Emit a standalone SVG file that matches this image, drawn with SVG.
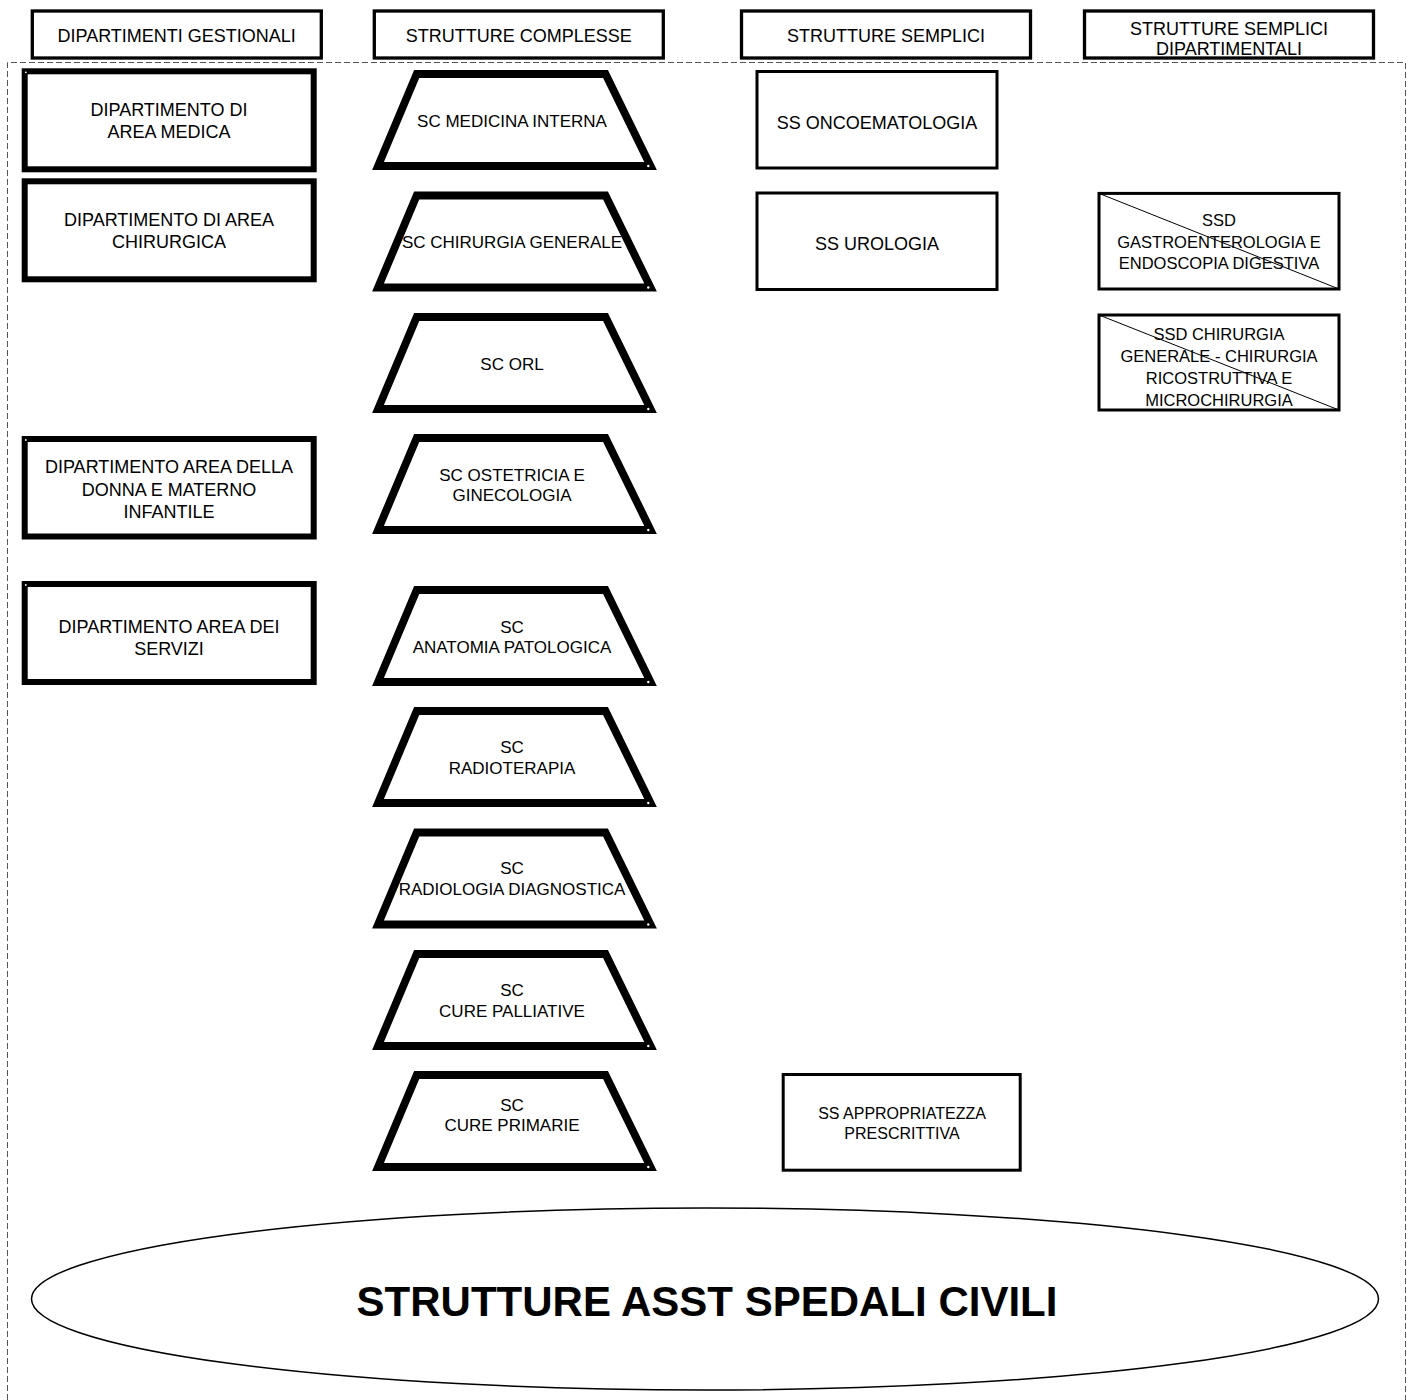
<svg xmlns="http://www.w3.org/2000/svg" width="1413" height="1400" viewBox="0 0 1413 1400">
<style>
text{font-family:"Liberation Sans",Arial,sans-serif;fill:#000;text-anchor:middle}
.h{font-size:18px}
.d{font-size:18px}
.sc{font-size:17px}
.ss{font-size:18px}
.ssd{font-size:16.5px}
.hdr{fill:#fff;stroke:#000;stroke-width:3.3}
.dept{fill:#fff;stroke:#000;stroke-width:6}
.sbox{fill:#fff;stroke:#000;stroke-width:3}
.trap{fill:#fff;stroke:#000;stroke-width:7.8;stroke-linejoin:miter}
.diag{stroke:#000;stroke-width:1;fill:none}
.dot{fill:#fff}
</style>
<defs>
<path id="trap" class="trap" d="M416.7,4 L605.5,4 L650.6,96 L378,96 Z"/>
</defs>
<rect width="1413" height="1400" fill="#fff"/>
<path d="M7.5,1400 V62.5 H1405.5 V1400" fill="none" stroke="#555" stroke-width="1" stroke-dasharray="6 3"/>

<g id="header-dipartimenti"><rect class="hdr" x="32.3" y="11" width="289" height="47"/><text class="h" x="176.7" y="41.7">DIPARTIMENTI GESTIONALI</text></g>
<g id="header-complesse"><rect class="hdr" x="374.3" y="11" width="289" height="47"/><text class="h" x="518.8" y="41.7">STRUTTURE COMPLESSE</text></g>
<g id="header-semplici"><rect class="hdr" x="741.5" y="11" width="289" height="47"/><text class="h" x="886" y="42.3">STRUTTURE SEMPLICI</text></g>
<g id="header-ssd"><rect class="hdr" x="1084.5" y="11" width="289" height="47"/><text class="h" x="1229" y="35">STRUTTURE SEMPLICI</text><text class="h" x="1229" y="55">DIPARTIMENTALI</text></g>

<g id="dip-area-medica"><rect class="dept" x="24.7" y="71.3" width="289" height="98"/><circle class="dot" cx="25.8" cy="72.3" r="0.9"/><text class="d" x="169" y="116">DIPARTIMENTO DI</text><text class="d" x="169" y="138.3">AREA MEDICA</text></g>
<g id="dip-area-chirurgica"><rect class="dept" x="24.7" y="181.3" width="289" height="98"/><text class="d" x="169" y="226">DIPARTIMENTO DI AREA</text><text class="d" x="169" y="248.3">CHIRURGICA</text></g>
<g id="dip-donna"><rect class="dept" x="24.7" y="439" width="289" height="97.5"/><circle class="dot" cx="25.8" cy="440" r="0.9"/><text class="d" x="169" y="473.3">DIPARTIMENTO AREA DELLA</text><text class="d" x="169" y="496">DONNA E MATERNO</text><text class="d" x="169" y="518.3">INFANTILE</text></g>
<g id="dip-servizi"><rect class="dept" x="24.7" y="584" width="289" height="98"/><circle class="dot" cx="25.8" cy="585" r="0.9"/><text class="d" x="169" y="632.7">DIPARTIMENTO AREA DEI</text><text class="d" x="169" y="654.5">SERVIZI</text></g>

<g id="sc-medicina-interna"><use href="#trap" y="70"/><circle class="dot" cx="648.3" cy="166" r="1.2"/><text class="sc" x="512" y="126.7">SC MEDICINA INTERNA</text></g>
<g id="sc-chirurgia-generale"><use href="#trap" y="191.5"/><circle class="dot" cx="648.3" cy="287.5" r="1.2"/><text class="sc" x="512" y="248.3">SC CHIRURGIA GENERALE</text></g>
<g id="sc-orl"><use href="#trap" y="313"/><circle class="dot" cx="648.3" cy="409" r="1.2"/><text class="sc" x="512" y="370">SC ORL</text></g>
<g id="sc-ostetricia"><use href="#trap" y="434"/><circle class="dot" cx="648.3" cy="530" r="1.2"/><text class="sc" x="512" y="481">SC OSTETRICIA E</text><text class="sc" x="512" y="501">GINECOLOGIA</text></g>
<g id="sc-anatomia"><use href="#trap" y="586"/><circle class="dot" cx="648.3" cy="682" r="1.2"/><text class="sc" x="512" y="632.5">SC</text><text class="sc" x="512" y="652.5">ANATOMIA PATOLOGICA</text></g>
<g id="sc-radioterapia"><use href="#trap" y="707"/><circle class="dot" cx="648.3" cy="803" r="1.2"/><text class="sc" x="512" y="752.5">SC</text><text class="sc" x="512" y="773.5">RADIOTERAPIA</text></g>
<g id="sc-radiologia"><use href="#trap" y="828.5"/><circle class="dot" cx="648.3" cy="924.5" r="1.2"/><text class="sc" x="512" y="873.5">SC</text><text class="sc" x="512" y="894.5">RADIOLOGIA DIAGNOSTICA</text></g>
<g id="sc-cure-palliative"><use href="#trap" y="950"/><circle class="dot" cx="648.3" cy="1046" r="1.2"/><text class="sc" x="512" y="995.5">SC</text><text class="sc" x="512" y="1016.5">CURE PALLIATIVE</text></g>
<g id="sc-cure-primarie"><use href="#trap" y="1071"/><circle class="dot" cx="648.3" cy="1167" r="1.2"/><text class="sc" x="512" y="1111">SC</text><text class="sc" x="512" y="1131">CURE PRIMARIE</text></g>

<g id="ss-oncoematologia"><rect class="sbox" x="757" y="71.5" width="240" height="96.5"/><text class="ss" x="877" y="129.3">SS ONCOEMATOLOGIA</text></g>
<g id="ss-urologia"><rect class="sbox" x="757" y="193" width="240" height="96.5"/><text class="ss" x="877" y="250">SS UROLOGIA</text></g>
<g id="ss-appropriatezza"><rect class="sbox" x="783.2" y="1074.5" width="237" height="95.7"/><text class="sc" style="font-size:16px" x="902" y="1119.3">SS APPROPRIATEZZA</text><text class="sc" style="font-size:16px" x="902" y="1139.3">PRESCRITTIVA</text></g>

<g id="ssd-gastro"><rect class="sbox" x="1099" y="193.4" width="240" height="95.6"/><line class="diag" x1="1099" y1="193.4" x2="1339" y2="289"/><text class="ssd" x="1219" y="226">SSD</text><text class="ssd" x="1219" y="247.5">GASTROENTEROLOGIA E</text><text class="ssd" x="1219" y="268.5">ENDOSCOPIA DIGESTIVA</text></g>
<g id="ssd-chirurgia"><rect class="sbox" x="1099" y="315" width="240" height="95"/><line class="diag" x1="1099" y1="315" x2="1339" y2="410"/><text class="ssd" x="1219" y="339.5">SSD CHIRURGIA</text><text class="ssd" x="1219" y="361.8">GENERALE - CHIRURGIA</text><text class="ssd" x="1219" y="384">RICOSTRUTTIVA E</text><text class="ssd" x="1219" y="406.3">MICROCHIRURGIA</text></g>

<g id="strutture-asst"><ellipse cx="705" cy="1299" rx="673.5" ry="91" fill="#fff" stroke="#000" stroke-width="1.5"/><text x="707" y="1316" style="font-size:42px;font-weight:bold">STRUTTURE ASST SPEDALI CIVILI</text></g>
</svg>
